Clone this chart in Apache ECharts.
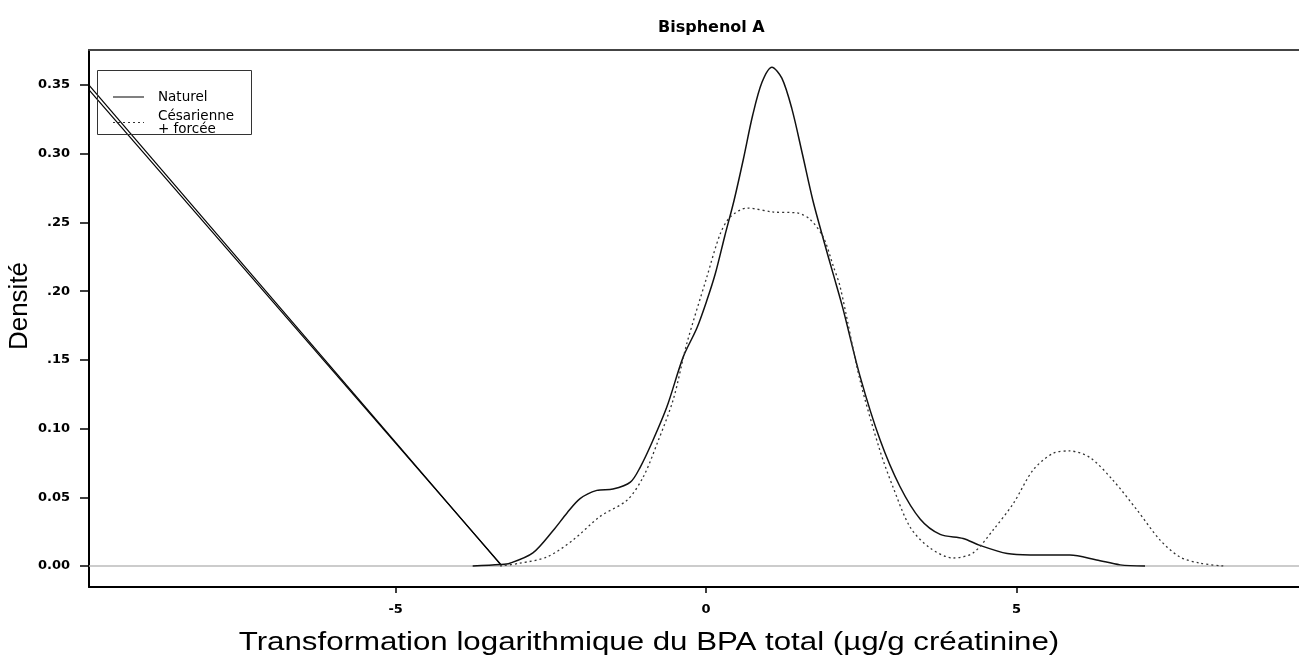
<!DOCTYPE html>
<html>
<head>
<meta charset="utf-8">
<script src="https://cdn.jsdelivr.net/npm/echarts@6/dist/echarts.min.js"></script>
<style>
html,body{margin:0;padding:0;background:#fff;}
#chart{width:1299px;height:655px;}
</style>
</head>
<body>
<div id="chart"></div>
<script>
// Naturel (solid) density curve: [x, density]
const naturelX = [-3.76,-3.32,-3.16,-2.79,-2.46,-2.24,-2.03,-1.76,-1.50,-1.22,-1.06,-0.87,-0.63,-0.37,-0.15,0.01,0.15,0.30,0.45,0.60,0.75,0.90,1.06,1.22,1.38,1.55,1.72,1.90,2.05,2.20,2.48,2.80,3.12,3.45,3.77,4.14,4.41,4.85,5.22,5.86,6.29,6.67,7.07];
const naturelY = [0.000,0.001,0.002,0.0095,0.026,0.0386,0.049,0.055,0.056,0.061,0.072,0.090,0.116,0.152,0.173,0.193,0.213,0.240,0.266,0.296,0.328,0.352,0.363,0.355,0.333,0.300,0.266,0.236,0.212,0.188,0.138,0.092,0.058,0.034,0.023,0.020,0.015,0.009,0.008,0.008,0.0044,0.0008,0.000];
// Césarienne + forcée (dotted) density curve
const cesarX = [-3.32,-3.00,-2.56,-2.14,-1.71,-1.27,-1.01,-0.79,-0.53,-0.31,0.01,0.23,0.39,0.66,1.08,1.47,1.68,1.89,2.05,2.16,2.48,2.80,3.01,3.29,3.61,3.98,4.30,4.62,4.95,5.27,5.59,5.86,6.18,6.55,6.94,7.31,7.63,7.96,8.33];
const cesarY = [0.000,0.002,0.0066,0.019,0.036,0.048,0.065,0.089,0.121,0.162,0.210,0.242,0.254,0.2605,0.2576,0.2569,0.252,0.239,0.218,0.203,0.135,0.084,0.0575,0.028,0.013,0.0058,0.0095,0.026,0.0456,0.070,0.082,0.0837,0.079,0.0626,0.0408,0.019,0.0066,0.002,0.000];
// stray straight segments seen at the left of the plot
const strayA = [[-9.94,0.350],[-3.32,0.0015]];
const strayB = [[-9.94,0.3465],[-3.30,0.0008]];
// axis ranges and ticks
const xMin = -9.94, xMax = 9.55;
const yMin = -0.0153, yMax = 0.3755;
const xTicks = [-5, 0, 5];
const yTicks = [0, 0.05, 0.10, 0.15, 0.20, 0.25, 0.30, 0.35];
const yTickLabels = {"0":"0.00","0.05":"0.05","0.1":"0.10","0.15":".15","0.2":".20","0.25":".25","0.3":"0.30","0.35":"0.35"};
const titleText = 'Bisphenol A';
const xName = 'Transformation logarithmique du BPA total (µg/g créatinine)';
const yName = 'Densité';
const seriesNames = ['Naturel', 'Césarienne\n+ forcée'];

const zip = (xs, ys) => xs.map((x, i) => [x, ys[i]]);
const BFONT = "'DejaVu Sans', sans-serif";

const chart = echarts.init(document.getElementById('chart'), null, {renderer: 'canvas'});
chart.setOption({
  animation: false,
  backgroundColor: '#fff',
  title: {
    text: titleText,
    left: 653, top: 15,
    textStyle: {fontFamily: BFONT, fontSize: 16, fontWeight: 'bold', color: '#000'}
  },
  grid: {left: 89, right: 0, top: 50, bottom: 68, containLabel: false, outerBoundsMode: 'none'},
  legend: {
    data: [
      {name: seriesNames[0], lineStyle: {color: '#808080', width: 2}},
      {name: seriesNames[1], lineStyle: {color: '#333', width: 1.2}}
    ],
    orient: 'vertical',
    left: 112, top: 90,
    itemWidth: 31, itemHeight: 14, itemGap: 5,
    padding: 0,
    itemStyle: {opacity: 0},
    textStyle: {fontFamily: BFONT, fontSize: 13.5, lineHeight: 13, color: '#000', padding: [0, 0, 0, 9]}
  },
  graphic: [{
    type: 'rect', shape: {x: 97.5, y: 70.5, width: 154, height: 64},
    style: {fill: 'none', stroke: '#333', lineWidth: 1}, z: 100
  }, {
    type: 'text', x: 649, y: 643, scaleX: 1.25,
    style: {text: xName, font: "25px 'Liberation Sans', Arial, sans-serif", fill: '#000', align: 'center', verticalAlign: 'middle'}
  }, {
    type: 'text', x: 20, y: 306, rotation: Math.PI / 2,
    style: {text: yName, font: "26px 'Liberation Sans', Arial, sans-serif", fill: '#000', align: 'center', verticalAlign: 'middle'}
  }],
  xAxis: [{
    type: 'value', min: xMin, max: xMax,
    splitLine: {show: false},
    axisLine: {show: true, onZero: false, lineStyle: {color: '#000', width: 2}},
    axisTick: {show: true, length: 6, customValues: xTicks, lineStyle: {color: '#000', width: 1.5}},
    axisLabel: {customValues: xTicks, margin: 16, fontFamily: BFONT, fontSize: 13, fontWeight: 'bold', color: '#000',
      formatter: v => String(v)}
  }, {
    type: 'value', position: 'top', min: xMin, max: xMax,
    splitLine: {show: false},
    axisLine: {show: true, onZero: false, lineStyle: {color: '#444', width: 2}},
    axisTick: {show: false}, axisLabel: {show: false}
  }],
  yAxis: {
    type: 'value', min: yMin, max: yMax,
    splitLine: {show: false},
    axisLine: {show: true, onZero: false, lineStyle: {color: '#000', width: 2}},
    axisTick: {show: true, length: 9, customValues: yTicks, lineStyle: {color: '#000', width: 1.5}},
    axisLabel: {customValues: yTicks, margin: 19, fontFamily: BFONT, fontSize: 13, fontWeight: 'bold', color: '#000',
      formatter: v => yTickLabels[String(Math.round(v * 100) / 100)] || v.toFixed(2)}
  },
  series: [{
    name: 'zero', type: 'line', data: [[xMin, 0], [xMax, 0]], symbol: 'none', silent: true,
    lineStyle: {color: '#bbbbbb', width: 1.5}, z: 1
  }, {
    name: 'strayA', type: 'line', data: strayA, symbol: 'none', silent: true,
    lineStyle: {color: '#000', width: 1.2}, z: 2
  }, {
    name: 'strayB', type: 'line', data: strayB, symbol: 'none', silent: true,
    lineStyle: {color: '#000', width: 1.2}, z: 2
  }, {
    name: seriesNames[0], type: 'line', data: zip(naturelX, naturelY), symbol: 'none', smooth: 0.3,
    lineStyle: {color: '#111', width: 1.5, type: 'solid'}, itemStyle: {color: '#888'}, z: 3
  }, {
    name: seriesNames[1], type: 'line', data: zip(cesarX, cesarY), symbol: 'none', smooth: 0.3,
    lineStyle: {color: '#333', width: 1.3, type: [2, 3]}, itemStyle: {color: '#333'}, z: 3
  }]
});
</script>
</body>
</html>
